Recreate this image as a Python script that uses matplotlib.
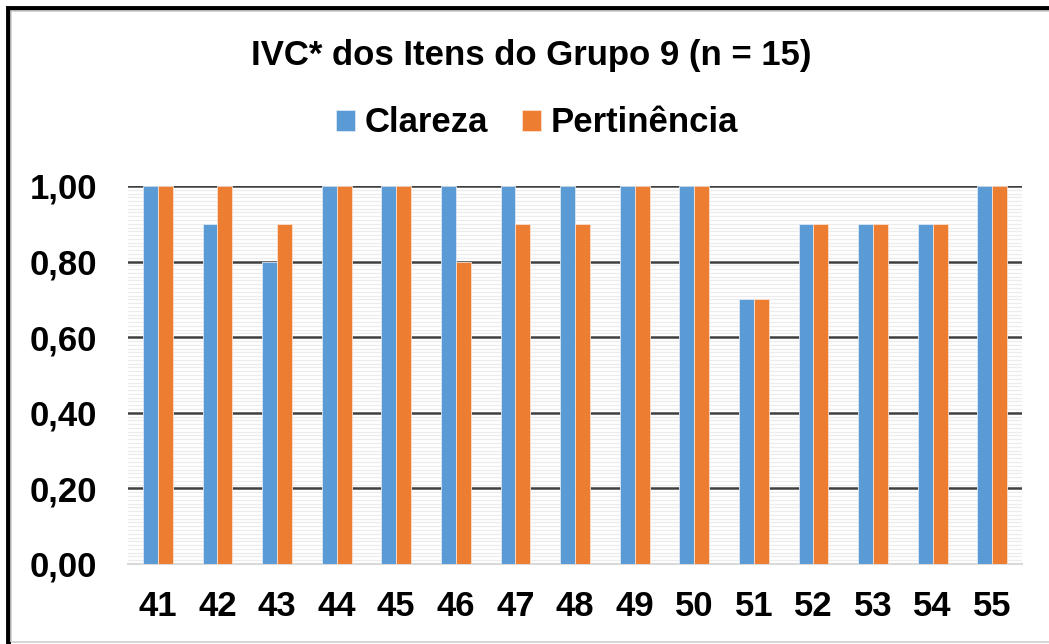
import numpy as np
import matplotlib
matplotlib.use("Agg")
import matplotlib.pyplot as plt
from matplotlib.patches import Rectangle
from matplotlib.ticker import MultipleLocator, FuncFormatter

# dados
itens = ['41', '42', '43', '44', '45', '46', '47', '48', '49', '50',
         '51', '52', '53', '54', '55']
clareza = [1.0, 0.9, 0.8, 1.0, 1.0, 1.0, 1.0, 1.0, 1.0, 1.0,
           0.7, 0.9, 0.9, 0.9, 1.0]
pertinencia = [1.0, 1.0, 0.9, 1.0, 1.0, 0.8, 0.9, 0.9, 1.0, 1.0,
               0.7, 0.9, 0.9, 0.9, 1.0]
titulo = 'IVC* dos Itens do Grupo 9 (n = 15)'

plt.rcParams['font.family'] = ['Liberation Sans', 'DejaVu Sans']
plt.rcParams['font.weight'] = 'bold'

fig = plt.figure(figsize=(10.49, 6.44), dpi=100)
ax = fig.add_axes([128 / 1049, 1 - 564 / 644, (1022 - 128) / 1049, (564 - 186) / 644])

x = np.arange(len(itens))
w = 0.25
ax.bar(x - w / 2, clareza, w, color='#5B9BD5', edgecolor='#DCE8F5', linewidth=0.6,
       label='Clareza', zorder=3)
ax.bar(x + w / 2, pertinencia, w, color='#ED7D31', edgecolor='#FBE0CF', linewidth=0.6,
       label='Pertinência', zorder=3)

ax.set_xlim(-0.5, len(itens) - 0.5)
ax.set_ylim(0, 1.0)
ax.set_xticks(x)
ax.set_xticklabels(itens)
ax.yaxis.set_major_locator(MultipleLocator(0.2))
ax.yaxis.set_minor_locator(MultipleLocator(0.01))
ax.yaxis.set_major_formatter(FuncFormatter(lambda v, p: f'{v:.2f}'.replace('.', ',')))
ax.tick_params(axis='both', which='both', length=0, labelsize=25)
ax.tick_params(axis='y', pad=22)
ax.tick_params(axis='x', pad=19)

# linhas de grade: principais escuras, secundarias bem claras
for v in np.arange(0.2, 1.01, 0.2):
    ax.axhline(v, color='#404040', lw=1.8, zorder=2)
ax.yaxis.grid(True, which='minor', color='#ECECEC', lw=0.9, zorder=1)
for s in ['top', 'right', 'left']:
    ax.spines[s].set_visible(False)
ax.spines['bottom'].set_color('#D9D9D9')
ax.spines['bottom'].set_linewidth(1.5)

fig.text(531 / 1049, 1 - 56 / 644, titulo, ha='center', va='center',
         fontsize=25, fontweight='bold')
fig.legend(loc='center', bbox_to_anchor=(537 / 1049, 1 - 123 / 644), ncol=2,
           frameon=False, fontsize=25, handlelength=0.55, handleheight=0.55,
           handletextpad=0.26, columnspacing=1.0)

# moldura da figura
fig.patches.append(Rectangle((8 / 1049, -0.01), 1.2, 1 - 8 / 644 + 0.01,
                             transform=fig.transFigure, fill=False,
                             edgecolor='black', lw=3.5))
fig.patches.append(Rectangle((11 / 1049, 2 / 644), 1.2, 1 - 13 / 644,
                             transform=fig.transFigure, fill=False,
                             edgecolor='#D0D0D0', lw=1.2))

fig.savefig('out.png', dpi=100)
